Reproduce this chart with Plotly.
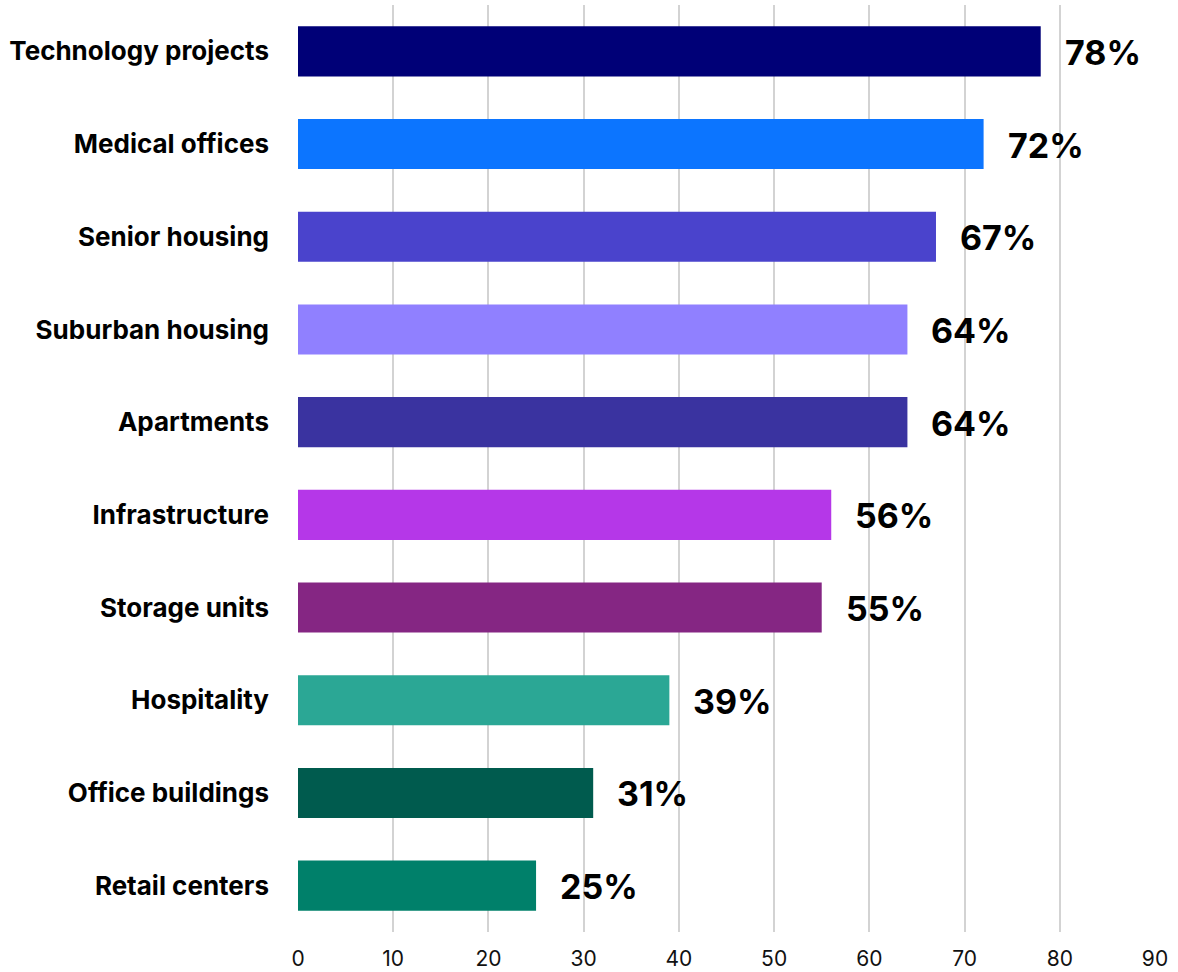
import plotly.graph_objects as go

categories = [
    "Technology projects", "Medical offices", "Senior housing", "Suburban housing",
    "Apartments", "Infrastructure", "Storage units", "Hospitality",
    "Office buildings", "Retail centers",
]
values = [78, 72, 67, 64, 64, 56, 55, 39, 31, 25]
colors = [
    "#000077", "#0C75FF", "#4A43CC", "#9080FF", "#3A33A0",
    "#B537E8", "#852683", "#2BA795", "#005B4E", "#00806A",
]
x_ticks = [0, 10, 20, 30, 40, 50, 60, 70, 80, 90]

fig = go.Figure()
fig.add_trace(go.Bar(
    x=values, y=categories, orientation="h",
    marker=dict(color=colors, line=dict(width=0)),
    width=0.54, hoverinfo="skip",
))

for cat, val in zip(categories, values):
    fig.add_annotation(
        x=val, y=cat, text=f"<b>{val}%</b>", showarrow=False,
        xanchor="left", yanchor="middle", xshift=22, yshift=-1,
        font=dict(family="Inter, Roboto, sans-serif", size=34, color="#000000"),
    )

fig.update_layout(
    width=1178, height=972,
    margin=dict(l=298, r=23, t=5, b=40),
    plot_bgcolor="white", paper_bgcolor="white",
    showlegend=False,
)
fig.update_xaxes(
    range=[0, 90], tickvals=x_ticks, showgrid=True, automargin=False,
    gridcolor="#D3D3D3", gridwidth=1.5, zeroline=False,
    showline=False, ticks="", ticklabelstandoff=12,
    tickfont=dict(family="Inter, Roboto, sans-serif", size=21, color="#111111"),
)
fig.update_yaxes(
    autorange="reversed", showgrid=False, zeroline=False, showline=False,
    automargin=False, ticks="", ticklabelstandoff=28,
    tickfont=dict(family="Inter, Roboto, sans-serif", size=26, color="#000000", weight="bold"),
)

fig.write_html("out.html")
